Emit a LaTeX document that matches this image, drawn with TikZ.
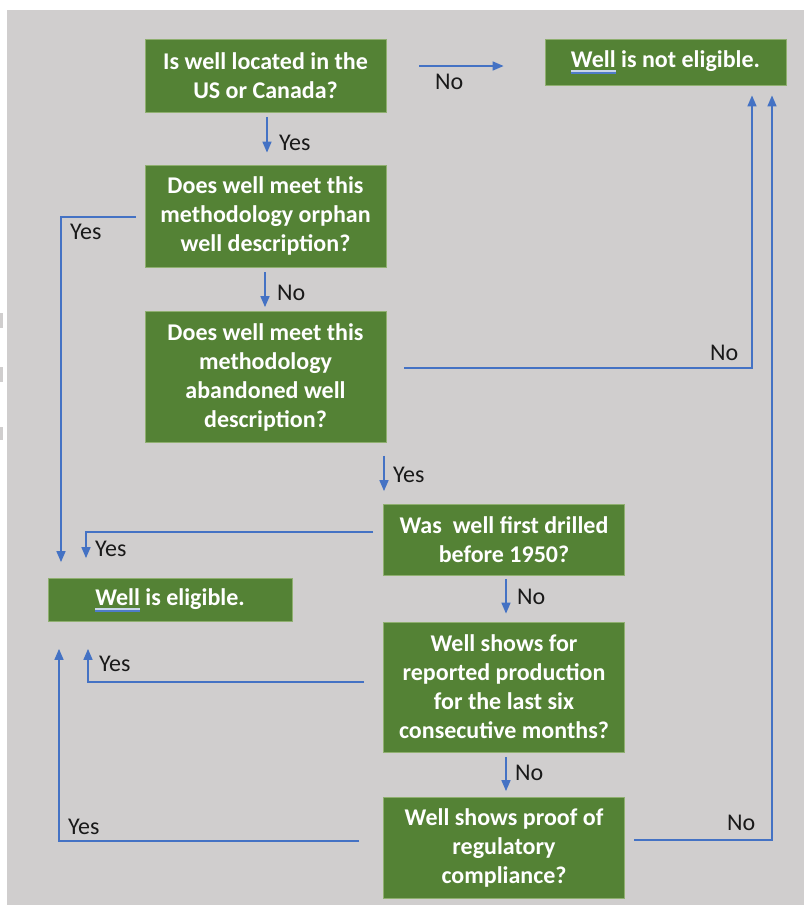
\documentclass[tikz,border=0pt]{standalone}
\usepackage{fontspec}
\setmainfont{Carlito}
\usetikzlibrary{arrows.meta,calc}
\definecolor{bggray}{HTML}{D0CECE}
\definecolor{boxgreen}{HTML}{548235}
\definecolor{boxedge}{HTML}{8FAF70}
\definecolor{arrblue}{HTML}{4472C4}
\definecolor{ulblue}{HTML}{4F7CC8}
\definecolor{ullight}{HTML}{C9D6EA}
\newlength\wlen
\newcommand\dulword[1]{\settowidth\wlen{#1}%
  \rlap{\raisebox{-4.5pt}{\textcolor{ullight}{\rule{\wlen}{1.3pt}}}}%
  \rlap{\raisebox{-6.5pt}{\textcolor{ulblue}{\rule{\wlen}{1.6pt}}}}#1}
\tikzset{
  qbox/.style={draw=boxedge, line width=0.8pt, fill=boxgreen, text=white,
    font=\fontsize{24}{29}\selectfont\bfseries, align=center,
    inner sep=0pt, minimum width=241pt},
  lab/.style={font=\fontsize{24}{29}\selectfont, text=black!90, inner sep=0pt, anchor=base west},
  arr/.style={draw=arrblue, line width=1.6pt, -{Triangle[length=11pt,width=9pt]}},
  ln/.style={draw=arrblue, line width=1.6pt}
}
\begin{document}
\begin{tikzpicture}[x=1pt,y=-1pt]
\useasboundingbox (0,0) rectangle (804,905);
\fill[white] (0,0) rectangle (804,905);
\fill[bggray] (7,10) rectangle (804,905);
\fill[bggray] (0,313) rectangle (3,328);
\fill[bggray] (0,367) rectangle (3,382);
\fill[bggray] (0,427) rectangle (3,440);

% boxes
\node[qbox, minimum height=73pt] (b1) at (265.5,76) {Is well located in the\\US or Canada?};
\node[qbox, minimum height=46pt] (ne) at (665.5,62) {\dulword{Well} is not eligible.};
\node[qbox, minimum height=102pt] (b2) at (265.5,216) {Does well meet this\\methodology orphan\\well description?};
\node[qbox, minimum height=131pt] (b3) at (265.5,377) {Does well meet this\\methodology\\abandoned well\\description?};
\node[qbox, minimum height=71pt] (b4) at (504,540) {Was\ \ well first drilled\\before 1950?};
\node[qbox, minimum height=43pt, minimum width=244pt] (el) at (170,600) {\dulword{Well} is eligible.};
\node[qbox, minimum height=130pt] (b5) at (504,687) {Well shows for\\reported production\\for the last six\\consecutive months?};
\node[qbox, minimum height=101pt] (b6) at (504,848) {Well shows proof of\\regulatory\\compliance?};

% connectors
\draw[arr] ($(b1.east)+(33,-10)$) -- ($(ne.west)+(-41,4)$);
\draw[arr] ($(b1.south)+(1.5,4)$) -- ($(b2.north)+(1.5,-12)$);
\draw[arr] ($(b2.west)+(-9,1)$) -| ($(el.north)+(-109,-16)$);
\draw[arr] ($(b2.south)+(-0.5,5)$) -- ($(b3.north)+(-0.5,-4)$);
\draw[arr] ($(b3.east)+(18,-9)$) -| ($(ne.south)+(86.5,10)$);
\draw[arr] ($(b3.south)+(118.5,13)$) -- ($(b4.north)+(-120,-13)$);
\draw[arr] ($(b4.west)+(-10,-8)$) -| ($(el.north)+(-84,-20)$);
\draw[arr] ($(b4.south)+(2,3)$) -- ($(b5.north)+(2,-8)$);
\draw[arr] ($(b5.west)+(-19,-5)$) -| ($(el.south)+(-82,27)$);
\draw[arr] ($(b5.south)+(2,5)$) -- ($(b6.north)+(2,-6)$);
\draw[arr] ($(b6.west)+(-24,-7)$) -| ($(el.south)+(-111,27)$);
\draw[arr] ($(b6.east)+(9.5,-8)$) -| ($(ne.south)+(106.5,10)$);

% labels
\node[lab] (l1) at (435,89) {No};
\node[lab] (l2) at (279,150) {Yes};
\node[lab] (l3) at (70,239) {Yes};
\node[lab] (l4) at (277,300) {No};
\node[lab] (l5) at (710,360) {No};
\node[lab] (l6) at (393,482) {Yes};
\node[lab] (l7) at (95,556) {Yes};
\node[lab] (l8) at (517,604) {No};
\node[lab] (l9) at (99,671) {Yes};
\node[lab] (l10) at (515,780) {No};
\node[lab] (l11) at (68,834) {Yes};
\node[lab] (l12) at (727,830) {No};
\end{tikzpicture}
\end{document}
